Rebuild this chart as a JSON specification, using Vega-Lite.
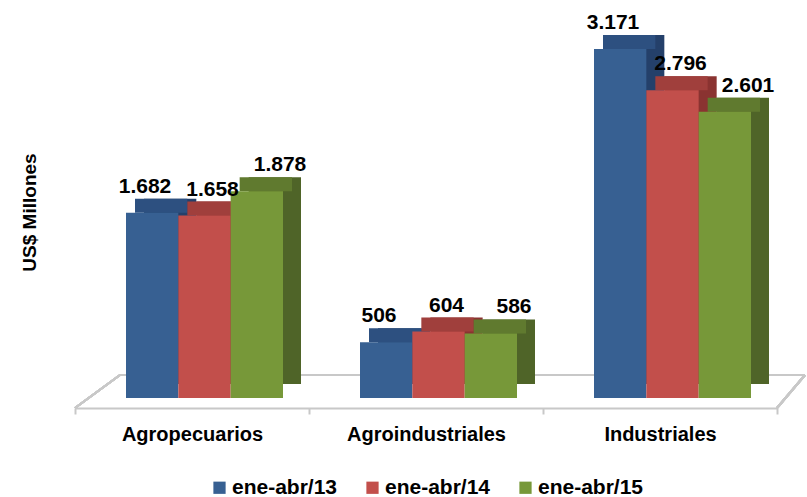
{
  "$schema": "https://vega.github.io/schema/vega-lite/v6.json",
  "width": 702,
  "height": 388,
  "autosize": {"type": "none"},
  "padding": {"left": 75, "top": 10, "right": 30, "bottom": 99},
  "config": {
    "view": {"stroke": null},
    "font": "Liberation Sans",
    "locale": {"number": {"decimal": ",", "thousands": ".", "grouping": [3], "currency": ["US$", ""]}}
  },
  "data": {
    "values": [
      {"cat": "Agropecuarios", "serie": "ene-abr/13", "value": 1682},
      {"cat": "Agropecuarios", "serie": "ene-abr/14", "value": 1658},
      {"cat": "Agropecuarios", "serie": "ene-abr/15", "value": 1878},
      {"cat": "Agroindustriales", "serie": "ene-abr/13", "value": 506},
      {"cat": "Agroindustriales", "serie": "ene-abr/14", "value": 604},
      {"cat": "Agroindustriales", "serie": "ene-abr/15", "value": 586},
      {"cat": "Industriales", "serie": "ene-abr/13", "value": 3171},
      {"cat": "Industriales", "serie": "ene-abr/14", "value": 2796},
      {"cat": "Industriales", "serie": "ene-abr/15", "value": 2601}
    ]
  },
  "encoding": {
    "x": {
      "field": "cat", "type": "nominal",
      "sort": ["Agropecuarios", "Agroindustriales", "Industriales"],
      "scale": {"paddingInner": 0, "paddingOuter": 0},
      "axis": {
        "title": null, "labelAngle": 0, "labelFontSize": 20, "labelFontWeight": "bold", "labelColor": "#000000",
        "domainColor": "#c8c8c8", "domainWidth": 2, "tickColor": "#c8c8c8", "tickWidth": 2, "tickSize": 6,
        "tickBand": "extent", "offset": 10, "labelPadding": 10
      }
    },
    "y": {
      "field": "value", "type": "quantitative",
      "scale": {"domain": [0, 3525], "nice": false},
      "axis": {
        "domain": false, "ticks": false, "labels": false, "grid": false,
        "title": "US$ Millones", "titleFontSize": 19, "titleFontWeight": "bold", "titleColor": "#000000",
        "titleX": -46, "titleY": 202, "titleAngle": -90, "titleAlign": "center", "titleBaseline": "middle"
      }
    }
  },
  "layer": [
    {
      "mark": {"type": "rule", "color": "#c8c8c8", "strokeWidth": 2, "xOffset": 45, "x2Offset": 28},
      "encoding": {
        "x": {"datum": "Agropecuarios", "bandPosition": 0},
        "x2": {"datum": "Industriales", "bandPosition": 1},
        "y": {"datum": 209}
      }
    },
    {
      "mark": {"type": "rule", "color": "#c8c8c8", "strokeWidth": 2, "x2Offset": 45},
      "encoding": {
        "x": {"datum": "Agropecuarios", "bandPosition": 0},
        "x2": {"datum": "Agropecuarios", "bandPosition": 0},
        "y": {"datum": -91}, "y2": {"datum": 209}
      }
    },
    {
      "mark": {"type": "rule", "color": "#c8c8c8", "strokeWidth": 2, "x2Offset": 28},
      "encoding": {
        "x": {"datum": "Industriales", "bandPosition": 1},
        "x2": {"datum": "Industriales", "bandPosition": 1},
        "y": {"datum": -91}, "y2": {"datum": 209}
      }
    },
    {
      "mark": {"type": "bar", "yOffset": -14, "y2Offset": -14},
      "encoding": {
        "xOffset": {"field": "serie", "type": "nominal", "scale": {"range": [69, 226], "paddingInner": 0, "paddingOuter": 0}},
        "color": {"field": "serie", "type": "nominal", "legend": null,
          "scale": {"range": ["#24406a", "#8a3331", "#4f6428"]}}
      }
    },
    {
      "mark": {"type": "bar", "yOffset": -14, "y2Offset": 0},
      "encoding": {
        "y2": {"field": "value"},
        "xOffset": {"field": "serie", "type": "nominal", "scale": {"range": [60, 217], "paddingInner": 0, "paddingOuter": 0}},
        "color": {"field": "serie", "type": "nominal", "legend": null,
          "scale": {"range": ["#2d5080", "#a03f3c", "#607a2f"]}}
      }
    },
    {
      "mark": {"type": "bar"},
      "encoding": {
        "xOffset": {"field": "serie", "type": "nominal", "scale": {"range": [51, 208], "paddingInner": 0, "paddingOuter": 0}},
        "color": {"field": "serie", "type": "nominal",
          "scale": {"range": ["#376092", "#c24f4b", "#779839"]},
          "legend": {
            "title": null, "orient": "none", "legendX": 134, "legendY": 467, "direction": "horizontal",
            "symbolType": "square", "symbolSize": 150, "symbolStrokeWidth": 0,
            "labelFontSize": 21, "labelFontWeight": "bold", "labelColor": "#000000",
            "labelOffset": 2, "columnPadding": 24
          }
        }
      }
    },
    {
      "mark": {"type": "text", "fontSize": 21, "fontWeight": "bold", "dy": -20, "baseline": "alphabetic", "color": "#000000"},
      "encoding": {
        "xOffset": {"field": "serie", "type": "nominal", "scale": {"range": [70, 205], "padding": 0}},
        "text": {"field": "value", "type": "quantitative", "format": ",.0f"}
      }
    }
  ],
  "resolve": {"scale": {"color": "independent", "xOffset": "independent"}}
}
